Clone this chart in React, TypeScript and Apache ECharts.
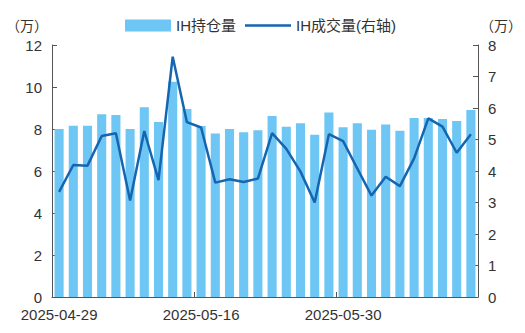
import React, { useEffect, useRef } from "react";
import * as echarts from "echarts";

const categories = [
  "2025-04-29", "2025-04-30", "2025-05-06", "2025-05-07", "2025-05-08",
  "2025-05-09", "2025-05-12", "2025-05-13", "2025-05-14", "2025-05-15",
  "2025-05-16", "2025-05-19", "2025-05-20", "2025-05-21", "2025-05-22",
  "2025-05-23", "2025-05-26", "2025-05-27", "2025-05-28", "2025-05-29",
  "2025-05-30", "2025-06-03", "2025-06-04", "2025-06-05", "2025-06-06",
  "2025-06-09", "2025-06-10", "2025-06-11", "2025-06-12", "2025-06-13",
];

const holdings = [
  8.0, 8.15, 8.15, 8.7, 8.67, 8.0, 9.03, 8.33, 10.25, 8.95,
  8.14, 7.78, 8.0, 7.84, 7.94, 8.62, 8.11, 8.27, 7.73, 8.79,
  8.08, 8.27, 7.97, 8.21, 7.92, 8.52, 8.52, 8.48, 8.38, 8.9,
];

const volume = [
  3.34, 4.19, 4.17, 5.11, 5.2, 3.06, 5.27, 3.71, 7.63, 5.55,
  5.38, 3.63, 3.74, 3.65, 3.76, 5.2, 4.7, 3.98, 3.0, 5.17,
  4.95, 4.08, 3.22, 3.82, 3.52, 4.4, 5.67, 5.41, 4.58, 5.17,
];

const seriesNames = ["IH持仓量", "IH成交量(右轴)"];

const FONT = "'Liberation Sans', Arial, 'Noto Sans CJK SC', sans-serif";
const TEXT = "#333333";
const AXIS = "#555555";
const LINE = "#1565B0";

export default function App() {
  const ref = useRef<HTMLDivElement>(null);
  useEffect(() => {
    if (!ref.current) return;
    const chart = echarts.init(ref.current, undefined, { renderer: "svg" });
    chart.setOption({
      animation: false,
      textStyle: { fontFamily: FONT, color: TEXT },
      legend: {
        top: 13,
        left: 120,
        itemWidth: 46,
        itemHeight: 12,
        itemGap: 9,
        textStyle: { fontSize: 15, color: TEXT, fontFamily: FONT },
        data: [
          { name: seriesNames[0], icon: "rect" },
          { name: seriesNames[1], icon: "path://M0,0 L46,0 L46,2.5 L0,2.5 Z", itemStyle: { color: LINE } },
        ],
      },
      grid: { left: 52, right: 36, top: 45, bottom: 36 },
      xAxis: {
        type: "category",
        data: categories,
        boundaryGap: true,
        axisLine: { lineStyle: { color: AXIS, width: 1 } },
        axisTick: { show: true, inside: true, interval: 9, length: 5, lineStyle: { color: AXIS } },
        axisLabel: { interval: 9, fontSize: 15, color: TEXT, margin: 10, fontFamily: FONT },
      },
      yAxis: [
        {
          type: "value",
          min: 0,
          max: 12,
          interval: 2,
          name: "（万）",
          nameGap: 12,
          nameTextStyle: { fontSize: 14, color: TEXT, align: "right", padding: [0, 4, 0, 0] },
          axisLine: { show: true, lineStyle: { color: AXIS } },
          axisTick: { show: true, inside: true, length: 5, lineStyle: { color: AXIS } },
          axisLabel: { fontSize: 15, color: TEXT, margin: 10, fontFamily: FONT },
          splitLine: { show: false },
        },
        {
          type: "value",
          min: 0,
          max: 8,
          interval: 1,
          name: "（万）",
          nameGap: 12,
          nameTextStyle: { fontSize: 14, color: TEXT, align: "left", padding: [0, 0, 0, 2] },
          axisLine: { show: true, lineStyle: { color: AXIS } },
          axisTick: { show: true, inside: true, length: 5, lineStyle: { color: AXIS } },
          axisLabel: { fontSize: 15, color: TEXT, margin: 10, fontFamily: FONT },
          splitLine: { show: false },
        },
      ],
      series: [
        {
          name: seriesNames[0],
          type: "bar",
          data: holdings,
          yAxisIndex: 0,
          barCategoryGap: "36%",
          itemStyle: { color: "#6EC6F4" },
        },
        {
          name: seriesNames[1],
          type: "line",
          data: volume,
          yAxisIndex: 1,
          symbol: "none",
          lineStyle: { color: LINE, width: 2.5 },
          itemStyle: { color: LINE },
        },
      ],
    });
    return () => chart.dispose();
  }, []);
  return <div ref={ref} style={{ width: 525, height: 333, position: "absolute", left: 0, top: 0 }} />;
}
